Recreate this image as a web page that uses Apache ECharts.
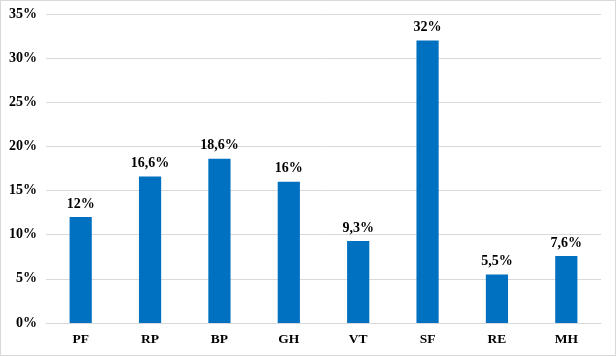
<!DOCTYPE html>
<html><head><meta charset="utf-8">
<script src="https://cdn.jsdelivr.net/npm/echarts@6/dist/echarts.min.js"></script>
<style>html,body{margin:0;padding:0;background:#fff;}#c{width:616px;height:356px;box-sizing:border-box;border:1px solid #d9d9d9;}</style>
</head><body><div id="c"></div>
<script>
const categories = ['PF','RP','BP','GH','VT','SF','RE','MH'];
const values = [12, 16.6, 18.6, 16, 9.3, 32, 5.5, 7.6];
const valueLabels = ['12%','16,6%','18,6%','16%','9,3%','32%','5,5%','7,6%'];
const yTicks = [0,5,10,15,20,25,30,35];

const chart = echarts.init(document.getElementById('c'));
const fam = '"Liberation Serif", "Times New Roman", serif';
const font = {fontFamily:fam, fontWeight:'bold', fontSize:14, color:'#000'};
chart.setOption({
  animation:false,
  grid:{left:45, right:14, top:13, bottom:32},
  xAxis:{type:'category', data:categories,
    axisLine:{lineStyle:{color:'#d9d9d9'}}, axisTick:{show:false},
    axisLabel:Object.assign({}, font, {margin:10, fontSize:13.5})},
  yAxis:{type:'value', min:0, max:35, interval:5,
    axisLine:{show:false}, axisTick:{show:false},
    splitLine:{lineStyle:{color:'#d9d9d9'}},
    axisLabel:Object.assign({margin:9, formatter:v=>v+'%'}, font)},
  series:[{type:'bar', data:values, barWidth:'32%',
    itemStyle:{color:'#0070C0'},
    label:Object.assign({show:true, position:'top', distance:6,
      formatter:p=>valueLabels[p.dataIndex]}, font)}]
});
</script></body></html>
